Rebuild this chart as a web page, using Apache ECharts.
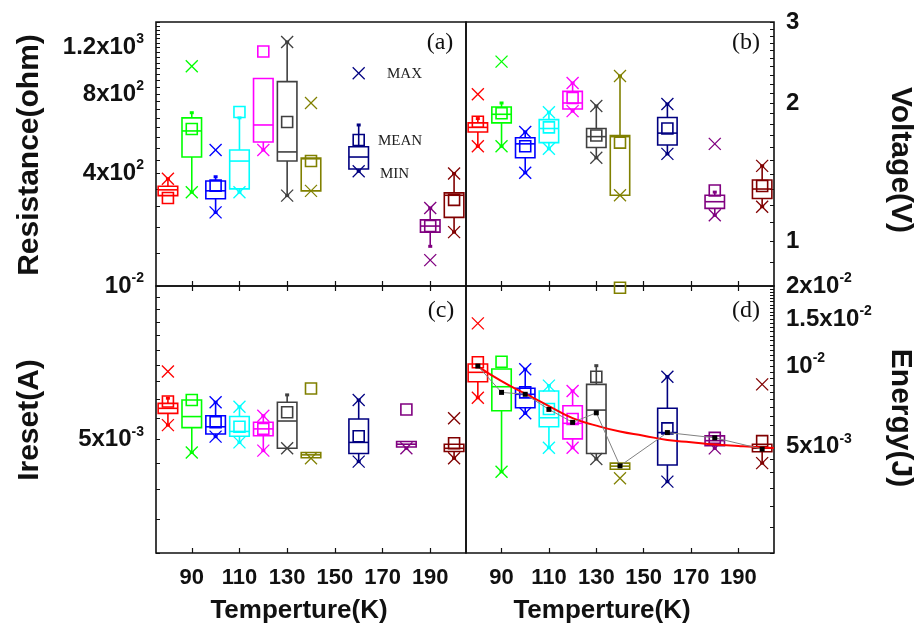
<!DOCTYPE html>
<html><head><meta charset="utf-8">
<script src="https://cdn.jsdelivr.net/npm/echarts@6/dist/echarts.min.js"></script>
<style>html,body{margin:0;padding:0;background:#fff}#c{width:922px;height:632px}</style>
</head><body><div id="c"></div>
<script>
// ---------- categories ----------
const temps    = [80, 90, 100, 110, 120, 130, 140, 160, 180, 200];
const tempsRes = [80, 90, 100, 110, 120, 130, 140, 160, 190, 200];
const boxColors = ['#ff0000', '#00ff00', '#0000ff', '#00ffff', '#ff00ff', '#404040', '#808000', '#000080', '#800080', '#800000'];

// ---------- (a) Resistance (ohm) ----------
const resLow  = [330, 340, 285, 340, 491, 330, 344, 408, 212, 240];
const resQ1   = [330, 462, 321, 350, 527, 446, 344, 416, 240, 273];
const resMed  = [347, 580, 344, 446, 611, 483, 455, 462, 253, 331];
const resQ3   = [358, 650, 375, 491, 916, 892, 458, 505, 267, 338];
const resHigh = [382, 680, 389, 650, 916, 1260, 458, 611, 296, 400];
const resMean = [323, 590, 360, 684, 1160, 627, 446, 536, 253, 318];
const resMin  = [null, 340, 285, 340, 491, 330, 344, 408, 188, 240];
const resMax  = [382, 1020, 491, null, null, 1260, 740, 960, 296, 400];

// ---------- (b) Voltage (V) ----------
const volLow  = [1.61, 1.61, 1.41, 1.59, 1.92, 1.52, 1.26, 1.55, 1.14, 1.19];
const volQ1   = [1.73, 1.81, 1.52, 1.64, 1.94, 1.60, 1.26, 1.62, 1.18, 1.24];
const volMed  = [1.77, 1.89, 1.63, 1.76, 2.00, 1.69, 1.69, 1.72, 1.22, 1.30];
const volQ3   = [1.81, 1.96, 1.68, 1.84, 2.12, 1.76, 1.70, 1.86, 1.26, 1.36];
const volHigh = [1.85, 2.00, 1.73, 1.91, 2.21, 1.97, 2.29, 1.99, 1.28, 1.46];
const volMean = [1.82, 1.90, 1.61, 1.77, 2.05, 1.70, 1.64, 1.76, 1.29, 1.32];
const volMin  = [1.61, 1.61, 1.41, 1.59, 1.92, 1.52, 1.26, 1.55, 1.14, 1.19];
const volMax  = [2.09, 2.46, 1.73, 1.91, 2.21, 1.97, 2.29, 1.99, 1.63, 1.46];

// ---------- (c) Ireset (A) ----------
const curLow  = [5.34e-3, 4.72e-3, 5.07e-3, 4.94e-3, 4.76e-3, 4.81e-3, 4.60e-3, 4.53e-3, 4.81e-3, 4.60e-3];
const curQ1   = [5.63e-3, 5.28e-3, 5.13e-3, 5.08e-3, 5.09e-3, 4.81e-3, 4.61e-3, 4.70e-3, 4.84e-3, 4.74e-3];
const curMed  = [5.76e-3, 5.55e-3, 5.30e-3, 5.19e-3, 5.25e-3, 5.44e-3, 4.67e-3, 4.94e-3, 4.90e-3, 4.81e-3];
const curQ3   = [5.89e-3, 5.98e-3, 5.57e-3, 5.55e-3, 5.41e-3, 5.92e-3, 4.72e-3, 5.49e-3, 4.96e-3, 4.90e-3];
const curHigh = [6.03e-3, 5.98e-3, 5.92e-3, 5.80e-3, 5.57e-3, 6.12e-3, 4.72e-3, 5.98e-3, 4.96e-3, 4.90e-3];
const curMean = [5.94e-3, 5.98e-3, 5.41e-3, 5.30e-3, 5.25e-3, 5.66e-3, 6.30e-3, 5.08e-3, 5.73e-3, 4.92e-3];
const curMin  = [5.34e-3, 4.72e-3, 5.07e-3, 4.94e-3, 4.76e-3, 4.81e-3, 4.60e-3, 4.53e-3, 4.81e-3, 4.60e-3];
const curMax  = [6.80e-3, null, 5.92e-3, 5.80e-3, 5.57e-3, null, null, 5.98e-3, null, 5.51e-3];

// ---------- (d) Energy (J) ----------
const enLow  = [0.00763, 0.00403, 0.00667, 0.00496, 0.00496, 0.00450, 0.00412, 0.00370, 0.00493, 0.00434];
const enQ1   = [0.00876, 0.00682, 0.00700, 0.00594, 0.00535, 0.00472, 0.00412, 0.00427, 0.00505, 0.00479];
const enMed  = [0.00950, 0.00839, 0.00786, 0.00642, 0.00612, 0.00686, 0.00423, 0.00565, 0.00527, 0.00494];
const enQ3   = [0.01021, 0.00977, 0.00828, 0.00809, 0.00712, 0.00856, 0.00434, 0.00697, 0.00549, 0.00511];
const enHigh = [0.01021, 0.00977, 0.00975, 0.00847, 0.00809, 0.01006, 0.00434, 0.00915, 0.00549, 0.00511];
const enMean = [0.01036, 0.01041, 0.00799, 0.00692, 0.00635, 0.00915, 0.0197, 0.00586, 0.00540, 0.00525];
const enMin  = [0.00763, 0.00403, 0.00667, 0.00496, 0.00496, 0.00450, 0.00381, 0.00370, 0.00493, 0.00434];
const enMax  = [0.01449, null, 0.00975, 0.00847, 0.00809, null, null, 0.00915, null, 0.00856];
const enDots = [0.01003, 0.00799, 0.00786, 0.00690, 0.00617, 0.00670, 0.00424, 0.00565, 0.00540, 0.00490];
const fitTemps = [80, 90, 100, 110, 120, 130, 140, 150, 160, 170, 180, 190, 200, 205];
const enFit    = [0.0100, 0.0088, 0.0079, 0.0071, 0.0064, 0.0060, 0.0057, 0.0055, 0.0053, 0.0052, 0.0051, 0.00503, 0.00497, 0.00495];

// ---------- tick labels ----------
const xTickVals = [90, 110, 130, 150, 170, 190];
const resTickVals = [400, 800, 1200];
const resTickLabels = [['4x10', '2'], ['8x10', '2'], ['1.2x10', '3']];
const volTickVals = [1, 2, 3];
const volTickLabels = [['1', ''], ['2', ''], ['3', '']];
const curTickVals = [0.005, 0.01];
const curTickLabels = [['5x10', '-3'], ['10', '-2']];
const enTickVals = [0.005, 0.01, 0.015, 0.02];
const enTickLabels = [['5x10', '-3'], ['10', '-2'], ['1.5x10', '-2'], ['2x10', '-2']];

// ---------- helpers ----------
function steps(a, b, s) { const r = []; for (let v = a; v <= b + s * 1e-6; v += s) r.push(+v.toPrecision(6)); return r; }
function labelFmt(vals, labels) {
  return function (v) {
    let best = 0, bd = Infinity;
    vals.forEach((t, i) => { const d = Math.abs(Math.log(v / t)); if (d < bd) { bd = d; best = i; } });
    const l = labels[best];
    return '{b|' + l[0] + '}' + (l[1] ? '{s|' + l[1] + '}' : '');
  };
}
const richLab = {
  b: { fontSize: 24, fontWeight: 'bold', fontFamily: 'Liberation Sans', color: '#111', lineHeight: 30 },
  s: { fontSize: 14, fontWeight: 'bold', fontFamily: 'Liberation Sans', color: '#111', lineHeight: 15, verticalAlign: 'top' }
};
function build(xs, lo, q1, med, q3, hi, mean, mn, mx) {
  return xs.map((x, i) => [x, lo[i], q1[i], med[i], q3[i], hi[i],
    mean[i] == null ? -1 : mean[i], mn[i] == null ? -1 : mn[i], mx[i] == null ? -1 : mx[i]]);
}
function boxRender(params, api) {
  const x = api.value(0);
  const col = boxColors[params.dataIndex];
  const P = v => api.coord([x, v]);
  const hw = api.size([8.2, 1])[0] / 2;
  const st = { stroke: col, lineWidth: 1.6, fill: null };
  const cx = P(api.value(3))[0];
  const yLo = P(api.value(1))[1], yQ1 = P(api.value(2))[1], yMed = P(api.value(3))[1],
        yQ3 = P(api.value(4))[1], yHi = P(api.value(5))[1];
  const ch = [];
  if (yHi < yQ3 - 0.5) {
    ch.push({ type: 'line', shape: { x1: cx, y1: yQ3, x2: cx, y2: yHi }, style: st });
    ch.push({ type: 'rect', shape: { x: cx - 2, y: yHi - 1.5, width: 4, height: 3 }, style: { fill: col } });
  }
  if (yLo > yQ1 + 0.5) {
    ch.push({ type: 'line', shape: { x1: cx, y1: yQ1, x2: cx, y2: yLo }, style: st });
    ch.push({ type: 'rect', shape: { x: cx - 2, y: yLo - 1.5, width: 4, height: 3 }, style: { fill: col } });
  }
  ch.push({ type: 'rect', shape: { x: cx - hw, y: yQ3, width: 2 * hw, height: Math.max(yQ1 - yQ3, 1) }, style: st });
  ch.push({ type: 'line', shape: { x1: cx - hw, y1: yMed, x2: cx + hw, y2: yMed }, style: st });
  const m = api.value(6);
  if (m > 0) { const ym = P(m)[1]; ch.push({ type: 'rect', shape: { x: cx - 5.5, y: ym - 5.5, width: 11, height: 11 }, style: st }); }
  [7, 8].forEach(k => {
    const v = api.value(k);
    if (v > 0) {
      const y = P(v)[1];
      ch.push({ type: 'line', shape: { x1: cx - 6, y1: y - 6, x2: cx + 6, y2: y + 6 }, style: { stroke: col, lineWidth: 1.3 } });
      ch.push({ type: 'line', shape: { x1: cx - 6, y1: y + 6, x2: cx + 6, y2: y - 6 }, style: { stroke: col, lineWidth: 1.3 } });
    }
  });
  return { type: 'group', children: ch };
}

const grids = [
  { left: 156, top: 22, width: 310, height: 264 },
  { left: 466, top: 22, width: 308, height: 264 },
  { left: 156, top: 286, width: 310, height: 267 },
  { left: 466, top: 286, width: 308, height: 267 }
].map(g => Object.assign(g, { show: true, borderColor: '#111', borderWidth: 1.6, backgroundColor: 'transparent', containLabel: false }));

function xAx(gi, pos, labels) {
  return {
    type: 'value', gridIndex: gi, position: pos, min: 75, max: 205,
    axisLine: { show: false }, splitLine: { show: false },
    axisTick: { show: true, inside: true, length: 5, customValues: xTickVals, lineStyle: { color: '#111', width: 1.2 } },
    axisLabel: { show: labels, customValues: xTickVals, margin: 14, fontSize: 22, fontWeight: 'bold', fontFamily: 'Liberation Sans', color: '#111' }
  };
}
function yAx(gi, pos, min, max, ticks, vals, labels) {
  return {
    type: 'log', gridIndex: gi, position: pos, min: min, max: max,
    axisLine: { show: false }, splitLine: { show: false },
    axisTick: { show: true, inside: true, length: 4, customValues: ticks, lineStyle: { color: '#111', width: 1 } },
    axisLabel: { show: true, customValues: vals, margin: 12, formatter: labelFmt(vals, labels), rich: richLab }
  };
}

const option = {
  animation: false,
  grid: grids,
  xAxis: [xAx(0, 'bottom', false), xAx(1, 'bottom', false), xAx(2, 'bottom', true), xAx(3, 'bottom', true), xAx(2, 'top', false), xAx(3, 'top', false)],
  yAxis: [
    yAx(0, 'left', 150, 1500, steps(150, 1500, 50), resTickVals, resTickLabels),
    yAx(1, 'right', 0.8, 3, steps(0.8, 3, 0.1), volTickVals, volTickLabels),
    yAx(2, 'left', 0.003, 0.01, steps(0.003, 0.01, 0.0005), curTickVals, curTickLabels),
    yAx(3, 'right', 0.002, 0.02, steps(0.002, 0.02, 0.0005), enTickVals, enTickLabels)
  ],
  series: [
    { type: 'custom', xAxisIndex: 0, yAxisIndex: 0, renderItem: boxRender, encode: { x: 0, y: [1, 2, 3, 4, 5] }, clip: false,
      data: build(tempsRes, resLow, resQ1, resMed, resQ3, resHigh, resMean, resMin, resMax) },
    { type: 'custom', xAxisIndex: 1, yAxisIndex: 1, renderItem: boxRender, encode: { x: 0, y: [1, 2, 3, 4, 5] }, clip: false,
      data: build(temps, volLow, volQ1, volMed, volQ3, volHigh, volMean, volMin, volMax) },
    { type: 'custom', xAxisIndex: 2, yAxisIndex: 2, renderItem: boxRender, encode: { x: 0, y: [1, 2, 3, 4, 5] }, clip: false,
      data: build(temps, curLow, curQ1, curMed, curQ3, curHigh, curMean, curMin, curMax) },
    { type: 'custom', xAxisIndex: 3, yAxisIndex: 3, renderItem: boxRender, encode: { x: 0, y: [1, 2, 3, 4, 5] }, clip: false,
      data: build(temps, enLow, enQ1, enMed, enQ3, enHigh, enMean, enMin, enMax) },
    { type: 'line', xAxisIndex: 3, yAxisIndex: 3, smooth: true, symbol: 'none', z: 3,
      lineStyle: { color: '#ff0000', width: 2 }, data: fitTemps.map((t, i) => [t, enFit[i]]) },
    { type: 'line', xAxisIndex: 3, yAxisIndex: 3, symbol: 'rect', symbolSize: 5, z: 4,
      itemStyle: { color: '#000' }, lineStyle: { color: '#808080', width: 1 }, data: temps.map((t, i) => [t, enDots[i]]) }
  ],
  graphic: [
    { type: 'text', x: 440, y: 43, style: { text: '(a)', font: '24px "Liberation Serif"', fill: '#111', align: 'center', verticalAlign: 'middle', textAlign: 'center', textVerticalAlign: 'middle' } },
    { type: 'text', x: 746, y: 43, style: { text: '(b)', font: '24px "Liberation Serif"', fill: '#111', align: 'center', verticalAlign: 'middle', textAlign: 'center', textVerticalAlign: 'middle' } },
    { type: 'text', x: 441, y: 311, style: { text: '(c)', font: '24px "Liberation Serif"', fill: '#111', align: 'center', verticalAlign: 'middle', textAlign: 'center', textVerticalAlign: 'middle' } },
    { type: 'text', x: 746, y: 311, style: { text: '(d)', font: '24px "Liberation Serif"', fill: '#111', align: 'center', verticalAlign: 'middle', textAlign: 'center', textVerticalAlign: 'middle' } },
    { type: 'text', x: 387, y: 74, style: { text: 'MAX', font: '15px "Liberation Serif"', fill: '#222', align: 'left', verticalAlign: 'middle', textAlign: 'left', textVerticalAlign: 'middle' } },
    { type: 'text', x: 378, y: 141, style: { text: 'MEAN', font: '15px "Liberation Serif"', fill: '#222', align: 'left', verticalAlign: 'middle', textAlign: 'left', textVerticalAlign: 'middle' } },
    { type: 'text', x: 380, y: 174, style: { text: 'MIN', font: '15px "Liberation Serif"', fill: '#222', align: 'left', verticalAlign: 'middle', textAlign: 'left', textVerticalAlign: 'middle' } },
    { type: 'text', x: 30, y: 155, rotation: Math.PI / 2, style: { text: 'Resistance(ohm)', font: 'bold 30px "Liberation Sans"', fill: '#111', align: 'center', verticalAlign: 'middle', textAlign: 'center', textVerticalAlign: 'middle' } },
    { type: 'text', x: 30, y: 420, rotation: Math.PI / 2, style: { text: 'Ireset(A)', font: 'bold 30px "Liberation Sans"', fill: '#111', align: 'center', verticalAlign: 'middle', textAlign: 'center', textVerticalAlign: 'middle' } },
    { type: 'text', x: 900, y: 160, rotation: -Math.PI / 2, style: { text: 'Voltage(V)', font: 'bold 30px "Liberation Sans"', fill: '#111', align: 'center', verticalAlign: 'middle', textAlign: 'center', textVerticalAlign: 'middle' } },
    { type: 'text', x: 900, y: 418, rotation: -Math.PI / 2, style: { text: 'Energy(J)', font: 'bold 30px "Liberation Sans"', fill: '#111', align: 'center', verticalAlign: 'middle', textAlign: 'center', textVerticalAlign: 'middle' } },
    { type: 'text', x: 299, y: 611, style: { text: 'Temperture(K)', font: 'bold 26px "Liberation Sans"', fill: '#111', align: 'center', verticalAlign: 'middle', textAlign: 'center', textVerticalAlign: 'middle' } },
    { type: 'text', x: 602, y: 611, style: { text: 'Temperture(K)', font: 'bold 26px "Liberation Sans"', fill: '#111', align: 'center', verticalAlign: 'middle', textAlign: 'center', textVerticalAlign: 'middle' } }
  ]
};
const chart = echarts.init(document.getElementById('c'));
chart.setOption(option);
</script>
</body></html>
